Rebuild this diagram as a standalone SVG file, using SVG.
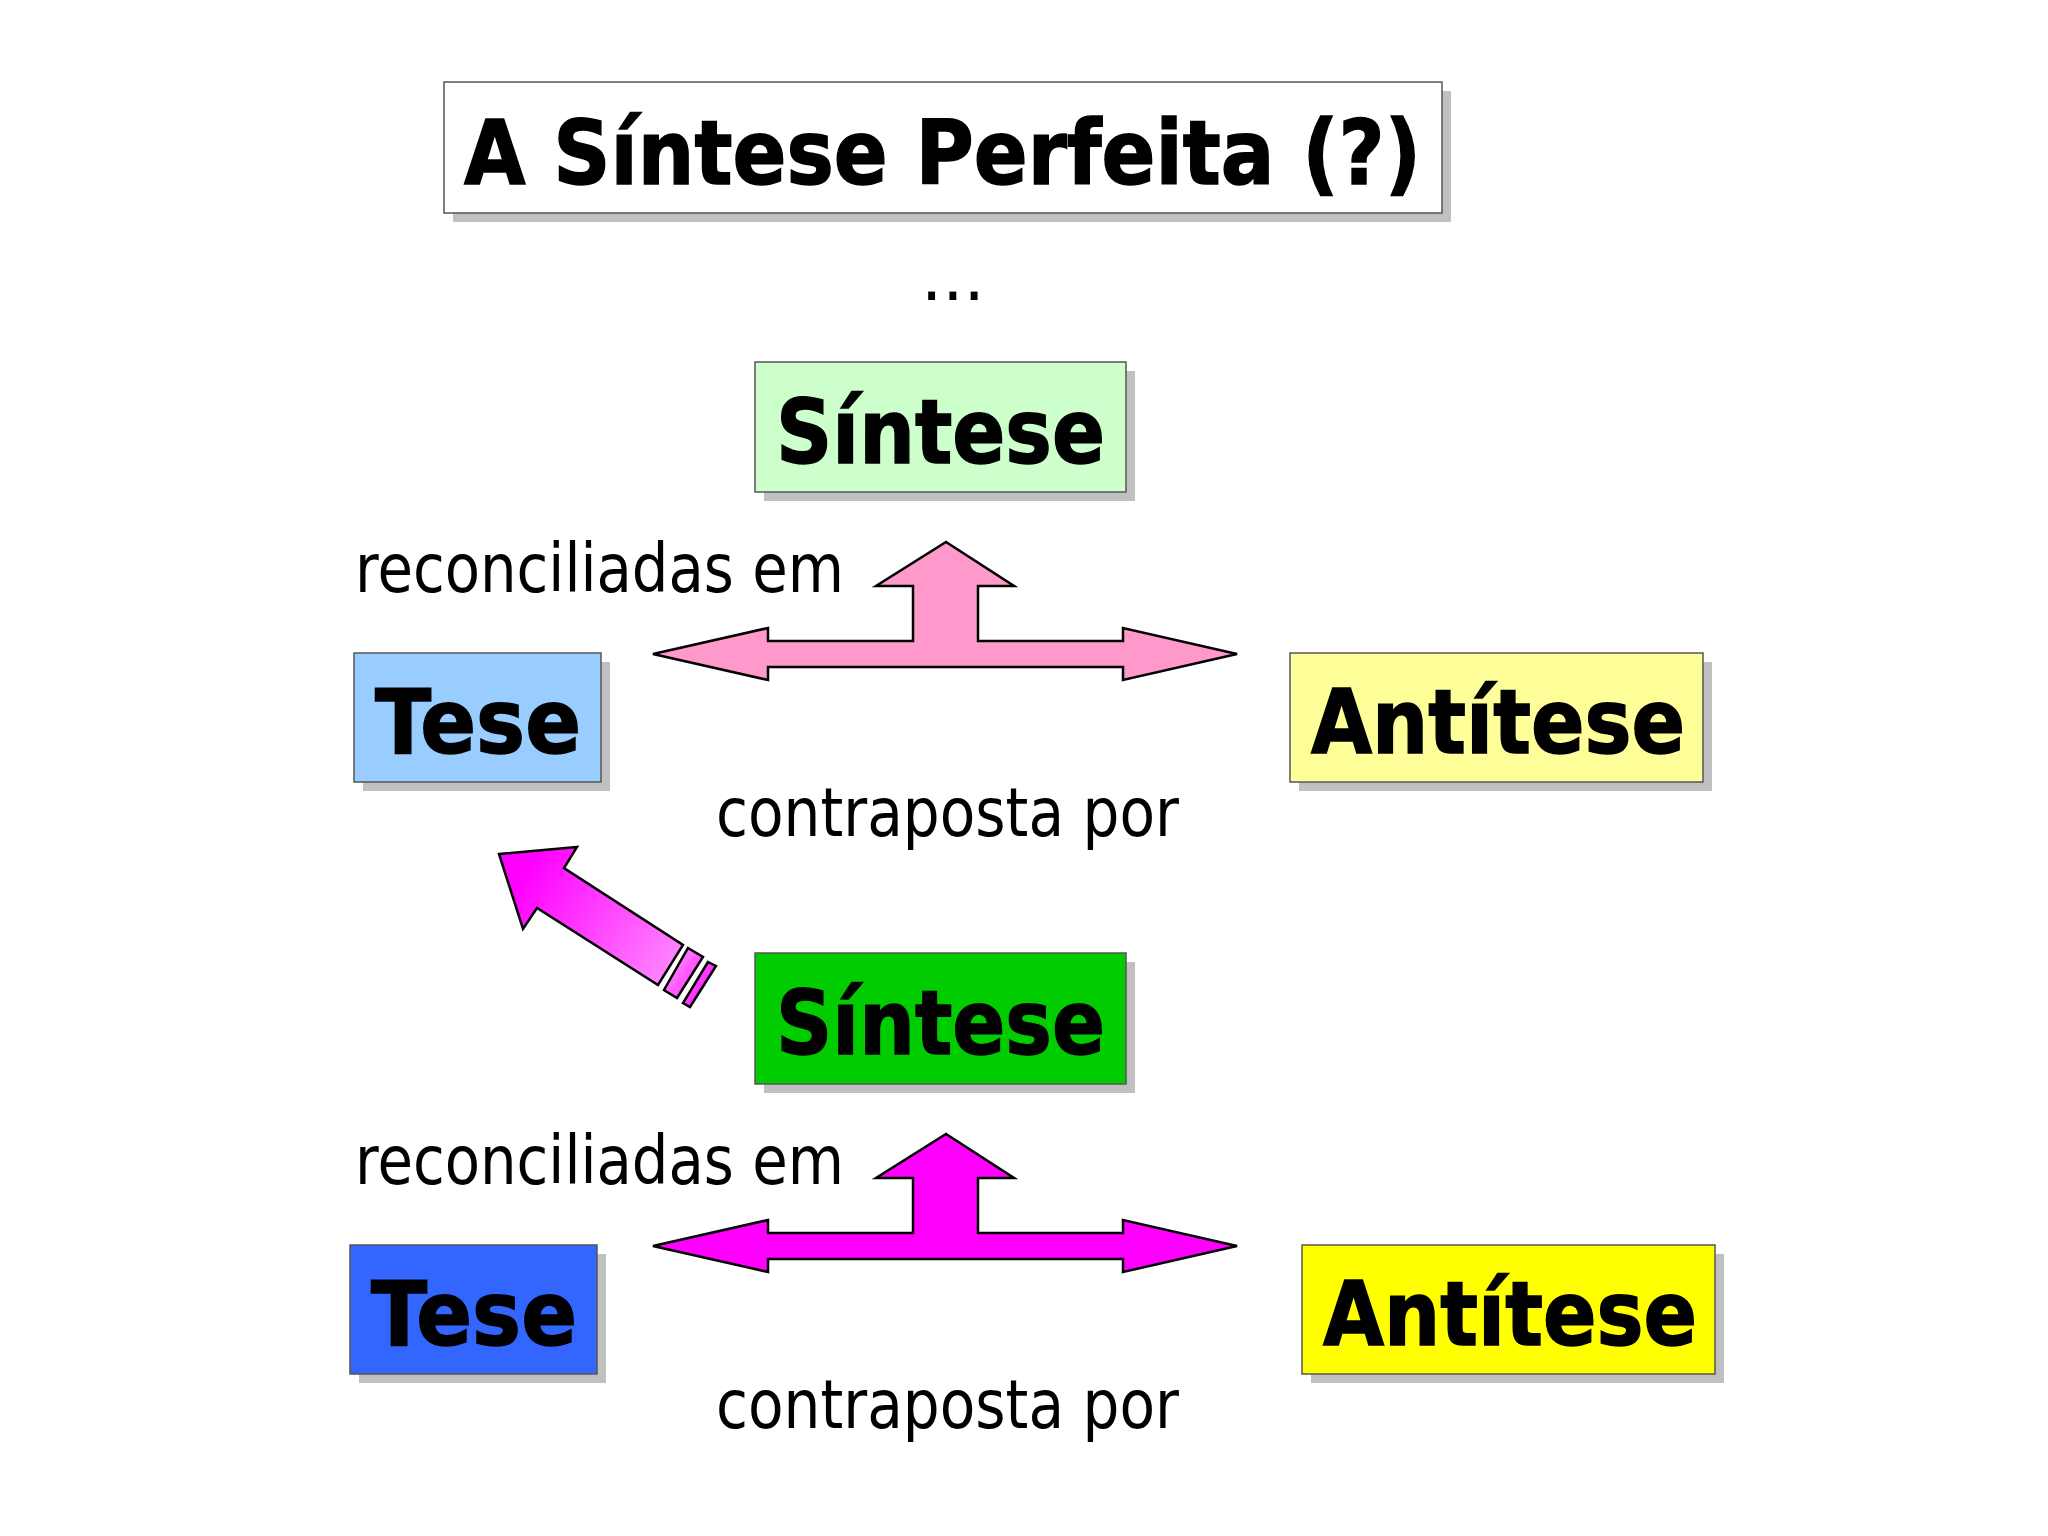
<svg xmlns="http://www.w3.org/2000/svg" width="2048" height="1536" viewBox="0 0 2048 1536">
<style>
.shadow{fill:#c0c0c0}
.box{stroke:#555;stroke-width:1.5}
.lbl{font-family:"DejaVu Sans","Liberation Sans",sans-serif;font-weight:bold;font-size:89px;fill:#000;stroke:#000;stroke-width:1.5}
.txt{font-family:"DejaVu Sans","Liberation Sans",sans-serif;font-size:67px;fill:#000}
.arr{stroke:#000;stroke-width:2.5;stroke-linejoin:miter}
</style>
<defs>
<linearGradient id="gd" gradientUnits="userSpaceOnUse" x1="520" y1="880" x2="690" y2="990">
<stop offset="0" stop-color="#FF00FF"/>
<stop offset="1" stop-color="#FF99FF"/>
</linearGradient>
<linearGradient id="gs" gradientUnits="userSpaceOnUse" x1="660" y1="960" x2="720" y2="1000">
<stop offset="0" stop-color="#FF99FF"/>
<stop offset="1" stop-color="#FF00FF"/>
</linearGradient>
</defs>
<rect width="2048" height="1536" fill="#fff"/>

<g id="title">
<rect class="shadow" x="453" y="91" width="998" height="131"/>
<rect x="444" y="82" width="998" height="131" fill="#fff" stroke="#555" stroke-width="1.5"/>
<text class="lbl" x="464" y="184" font-size="93" textLength="957" lengthAdjust="spacingAndGlyphs">A Síntese Perfeita (?)</text>
</g>
<g id="ellipsis"><text class="txt" x="921" y="300">...</text></g>

<g id="sintese1">
<rect class="shadow" x="764" y="371" width="371" height="130"/>
<rect class="box" x="755" y="362" width="371" height="130" fill="#CCFFCC"/>
<text class="lbl" x="776" y="463" textLength="329" lengthAdjust="spacingAndGlyphs">Síntese</text>
</g>
<g id="tese1">
<rect class="shadow" x="363" y="662" width="247" height="129"/>
<rect class="box" x="354" y="653" width="247" height="129" fill="#99CCFF"/>
<text class="lbl" x="375" y="753" textLength="206" lengthAdjust="spacingAndGlyphs">Tese</text>
</g>
<g id="antitese1">
<rect class="shadow" x="1299" y="662" width="413" height="129"/>
<rect class="box" x="1290" y="653" width="413" height="129" fill="#FFFF99"/>
<text class="lbl" x="1311" y="753" textLength="374" lengthAdjust="spacingAndGlyphs">Antítese</text>
</g>
<g id="labels1">
<text class="txt" x="355" y="592" textLength="489" lengthAdjust="spacingAndGlyphs">reconciliadas em</text>
<text class="txt" x="716" y="836" textLength="463" lengthAdjust="spacingAndGlyphs">contraposta por</text>
</g>

<g id="sintese2">
<rect class="shadow" x="764" y="962" width="371" height="131"/>
<rect class="box" x="755" y="953" width="371" height="131" fill="#00CC00"/>
<text class="lbl" x="776" y="1054" textLength="329" lengthAdjust="spacingAndGlyphs">Síntese</text>
</g>
<g id="tese2">
<rect class="shadow" x="359" y="1254" width="247" height="129"/>
<rect class="box" x="350" y="1245" width="247" height="129" fill="#3366FF"/>
<text class="lbl" x="371" y="1345" textLength="206" lengthAdjust="spacingAndGlyphs">Tese</text>
</g>
<g id="antitese2">
<rect class="shadow" x="1311" y="1254" width="413" height="129"/>
<rect class="box" x="1302" y="1245" width="413" height="129" fill="#FFFF00"/>
<text class="lbl" x="1323" y="1345" textLength="374" lengthAdjust="spacingAndGlyphs">Antítese</text>
</g>
<g id="labels2">
<text class="txt" x="355" y="1184" textLength="489" lengthAdjust="spacingAndGlyphs">reconciliadas em</text>
<text class="txt" x="716" y="1428" textLength="463" lengthAdjust="spacingAndGlyphs">contraposta por</text>
</g>

<g id="connectors">
<path class="arr" fill="#FF99CC" d="M653,654 L768,628 L768,641 L913,641 L913,586 L876,586 L946,542 L1014,586 L978,586 L978,641 L1123,641 L1123,628 L1237,654 L1123,680 L1123,667 L768,667 L768,680 Z"/>
<path class="arr" fill="#FF00FF" d="M653,1246 L768,1220 L768,1233 L913,1233 L913,1178 L876,1178 L946,1134 L1014,1178 L978,1178 L978,1233 L1123,1233 L1123,1220 L1237,1246 L1123,1272 L1123,1259 L768,1259 L768,1272 Z"/>
<path class="arr" fill="url(#gd)" d="M499,854 L577,847 L564,868 L683,945 L658,985 L537,908 L523,929 Z"/>
<path class="arr" fill="url(#gs)" d="M688,948 L703,957 L677,998 L664,990 Z"/>
<path class="arr" fill="url(#gs)" d="M708,962 L716,966 L690,1007 L683,1003 Z"/>
</g>
</svg>
